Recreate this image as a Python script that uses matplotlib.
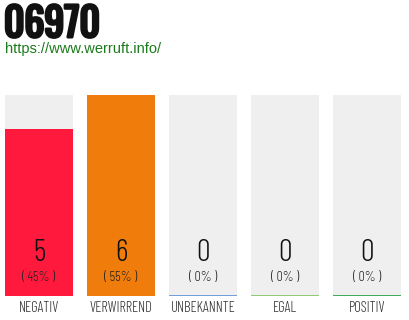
import matplotlib
matplotlib.use("Agg")
import matplotlib.pyplot as plt
import matplotlib.patheffects as pe
from matplotlib import font_manager

# Daten
categories = ["NEGATIV", "VERWIRREND", "UNBEKANNTE", "EGAL", "POSITIV"]
counts = [5, 6, 0, 0, 0]
percents = [45, 55, 0, 0, 0]
bar_colors = ["#ff1a3d", "#f07d0b", "#5b8fd9", "#7cc35b", "#1e9e3c"]
title = "06970"
url = "https://www.werruft.info/"

available = set(f.name for f in font_manager.fontManager.ttflist)
head = "Oswald" if "Oswald" in available else "DejaVu Sans"
thin = "Barlow Condensed" if "Barlow Condensed" in available else "DejaVu Sans"

fig = plt.figure(figsize=(4.1, 3.2), dpi=100)

# Titel (fett durch Kontur) und URL
fig.text(4 / 410, 1 - 37 / 320, title, fontsize=28.5, family=head,
         color="#111111", va="baseline", ha="left",
         path_effects=[pe.withStroke(linewidth=2.2, foreground="#111111")])
fig.text(5 / 410, 1 - 49 / 320, url, fontsize=10.5, family="Liberation Sans",
         color="#1b7a1b", va="center", ha="left")

# Achse in Pixelkoordinaten
ax = fig.add_axes([5 / 410, (320 - 296) / 320, 396 / 410, 201 / 320])
ymax = max(counts)
x = list(range(len(categories)))
w = 68 / 82
ax.bar(x, [ymax] * len(x), width=w, color="#efefef", zorder=1)
ax.bar(x, counts, width=w, color=bar_colors, zorder=2)
for i, c in enumerate(bar_colors):
    ax.plot([i - w / 2, i + w / 2], [0, 0], color=c, lw=1.2, zorder=3,
            solid_capstyle="butt")

tr = ax.get_xaxis_transform()
for i in x:
    ax.text(i, 0.214, str(counts[i]), transform=tr, ha="center", va="center",
            fontsize=22, family=thin, fontweight=300, color="#111111")
    ax.text(i, 0.09, f"( {percents[i]}% )", transform=tr, ha="center",
            va="center", fontsize=10, family=thin, fontweight=300,
            color="#222222")
    ax.text(i, -0.06, categories[i], transform=tr, ha="center", va="center",
            fontsize=10.5, family=thin, fontweight=300, color="#333333")

ax.set_xlim((5 - 39) / 82, (401 - 39) / 82)
ax.set_ylim(0, ymax)
ax.axis("off")

fig.savefig("out.png", dpi=100)
